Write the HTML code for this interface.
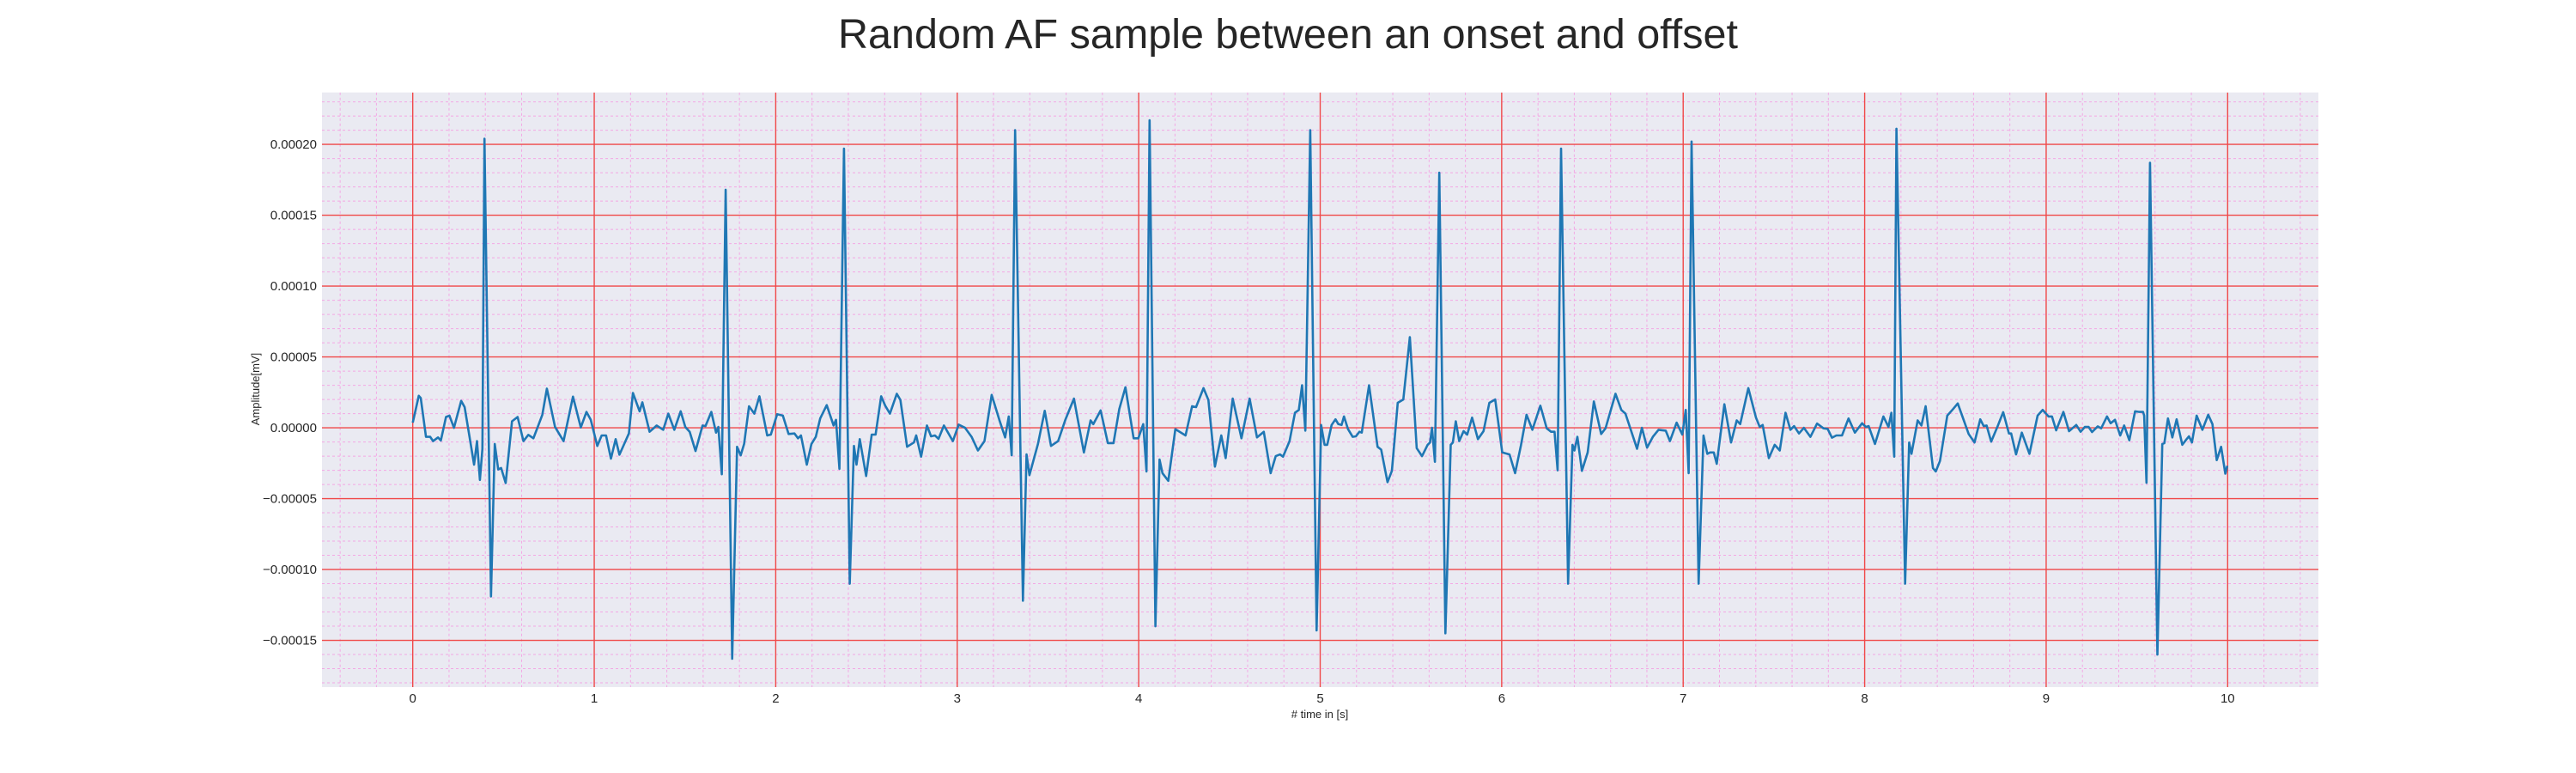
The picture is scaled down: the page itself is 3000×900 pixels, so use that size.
<!DOCTYPE html>
<html><head><meta charset="utf-8">
<style>
html,body{margin:0;padding:0;background:#fff;}
svg{display:block;font-family:"Liberation Sans",Arial,sans-serif;}
</style></head>
<body>
<svg id="chart" width="3000" height="900" viewBox="0 0 3000 900" xmlns="http://www.w3.org/2000/svg">
<text x="1500" y="56" text-anchor="middle" font-size="48.5" fill="#262626">Random AF sample between an onset and offset</text>
<rect x="375" y="107.7" width="2325" height="692.3" fill="#eaeaf2"/>
<g id="grid"></g>
<g id="ticks"></g>
<g id="series"></g>
<text x="1537" y="836" text-anchor="middle" font-size="13" fill="#262626"># time in [s]</text>
<text transform="translate(302,453) rotate(-90)" text-anchor="middle" font-size="13" fill="#262626">Amplitude[mV]</text>
</svg>
<script>
// ---- data ----
const xTicks = [0,1,2,3,4,5,6,7,8,9,10];
const yTicks = [-0.00015,-0.0001,-0.00005,0,0.00005,0.0001,0.00015,0.0002];
const yTickLabels = ["\u22120.00015","\u22120.00010","\u22120.00005","0.00000","0.00005","0.00010","0.00015","0.00020"];
// time in seconds
const timeS = [0,0.033,0.044,0.073,0.096,0.112,0.139,0.155,0.183,0.202,0.227,0.267,0.286,0.318,0.338,0.354,0.37,0.384,0.395,0.431,0.452,0.471,0.487,0.512,0.547,0.578,0.61,0.637,0.665,0.692,0.714,0.739,0.784,0.831,0.883,0.926,0.957,0.981,1.017,1.041,1.065,1.092,1.118,1.139,1.191,1.213,1.25,1.265,1.305,1.344,1.38,1.408,1.441,1.476,1.502,1.526,1.558,1.597,1.613,1.645,1.671,1.684,1.703,1.724,1.76,1.787,1.807,1.826,1.853,1.882,1.91,1.953,1.973,2.008,2.039,2.071,2.103,2.123,2.139,2.171,2.197,2.221,2.245,2.281,2.319,2.332,2.351,2.376,2.408,2.431,2.445,2.463,2.498,2.529,2.55,2.581,2.603,2.629,2.667,2.687,2.724,2.761,2.774,2.801,2.833,2.856,2.877,2.897,2.927,2.976,3.008,3.043,3.079,3.114,3.15,3.19,3.232,3.264,3.284,3.3,3.319,3.362,3.382,3.398,3.445,3.482,3.517,3.556,3.596,3.643,3.698,3.735,3.75,3.79,3.83,3.861,3.893,3.927,3.972,3.998,4.025,4.043,4.06,4.092,4.115,4.131,4.163,4.202,4.258,4.294,4.316,4.357,4.384,4.42,4.455,4.479,4.518,4.566,4.611,4.652,4.689,4.727,4.755,4.779,4.795,4.831,4.861,4.882,4.9,4.918,4.945,4.98,5.005,5.024,5.039,5.063,5.084,5.1,5.118,5.131,5.153,5.179,5.197,5.216,5.229,5.269,5.316,5.336,5.371,5.395,5.427,5.458,5.494,5.532,5.561,5.592,5.605,5.616,5.632,5.656,5.69,5.719,5.731,5.747,5.766,5.79,5.81,5.837,5.869,5.9,5.932,5.964,6.003,6.043,6.074,6.106,6.137,6.169,6.213,6.248,6.272,6.291,6.308,6.327,6.366,6.39,6.401,6.417,6.442,6.474,6.508,6.548,6.572,6.627,6.659,6.682,6.746,6.773,6.801,6.833,6.864,6.904,6.927,6.964,6.995,7.014,7.03,7.046,7.085,7.112,7.133,7.148,7.169,7.185,7.227,7.264,7.295,7.314,7.359,7.401,7.422,7.438,7.472,7.504,7.532,7.564,7.591,7.611,7.638,7.665,7.701,7.738,7.773,7.796,7.82,7.844,7.875,7.911,7.946,7.986,8.006,8.022,8.057,8.103,8.131,8.147,8.163,8.175,8.223,8.245,8.258,8.292,8.313,8.336,8.376,8.392,8.415,8.455,8.487,8.513,8.573,8.605,8.637,8.656,8.672,8.697,8.731,8.763,8.795,8.807,8.834,8.866,8.908,8.953,8.981,9.013,9.032,9.055,9.095,9.126,9.166,9.19,9.213,9.234,9.253,9.284,9.303,9.335,9.355,9.379,9.408,9.43,9.458,9.49,9.513,9.534,9.54,9.553,9.572,9.613,9.64,9.651,9.671,9.695,9.719,9.75,9.774,9.787,9.803,9.829,9.861,9.893,9.916,9.94,9.964,9.987,9.998];
// amplitude in units of 1e-5 mV
const ampE5 = [0.36,2.26,2.1,-0.64,-0.64,-0.94,-0.68,-0.9,0.76,0.86,0,1.9,1.46,-1.04,-2.6,-0.94,-3.68,-1.5,20.4,-11.9,-1.14,-2.94,-2.84,-3.9,0.46,0.76,-0.94,-0.5,-0.74,0.16,0.92,2.76,0.06,-0.94,2.2,0.02,1.12,0.56,-1.28,-0.54,-0.54,-2.18,-0.8,-1.9,-0.4,2.46,1.16,1.8,-0.28,0.16,-0.14,1.0,-0.14,1.16,0.06,-0.28,-1.64,0.16,0.12,1.12,-0.34,0.06,-3.28,16.8,-16.3,-1.34,-1.94,-1.14,1.52,1.0,2.22,-0.54,-0.48,0.96,0.86,-0.44,-0.4,-0.74,-0.54,-2.6,-1.14,-0.64,0.66,1.6,0.16,0.56,-2.9,19.7,-11.0,-1.28,-2.6,-0.8,-3.4,-0.48,-0.48,2.22,1.56,1.0,2.4,1.96,-1.34,-1.04,-0.54,-2.04,0.16,-0.6,-0.54,-0.78,0.16,-0.94,0.22,0,-0.64,-1.6,-0.94,2.32,0.56,-0.68,0.8,-1.94,21.0,-12.2,-1.88,-3.34,-1.14,1.2,-1.28,-0.94,0.56,2.06,-1.74,0.52,0.26,1.22,-1.08,-1.08,1.32,2.86,-0.74,-0.74,0.26,-3.08,21.7,-14.0,-2.24,-3.2,-3.74,-0.1,-0.54,1.52,1.46,2.8,1.96,-2.74,-0.54,-2.14,2.06,-0.74,2.06,-0.68,-0.28,-3.2,-2.0,-1.88,-2.04,-0.94,1.06,1.26,3.0,-0.2,21.0,-14.3,0.2,-1.2,-1.2,0.2,0.6,0.26,0.2,0.8,-0.08,-0.64,-0.6,-0.28,-0.34,3.0,-1.34,-1.54,-3.84,-3.04,1.76,2.0,6.4,-1.44,-2.0,-1.2,-1.04,0,-2.4,18.0,-14.5,-1.2,-1.04,0.46,-0.94,-0.24,-0.48,0.72,-0.8,-0.24,1.76,2.0,-1.74,-1.88,-3.2,-1.24,0.92,-0.14,1.56,-0.04,-0.28,-0.28,-3.0,19.7,-11.0,-1.2,-1.6,-0.64,-3.04,-1.74,1.86,-0.44,-0.04,2.4,1.26,1.0,-1.48,0,-1.4,-0.64,-0.14,-0.2,-0.94,0.36,-0.48,1.26,-3.2,20.2,-11.0,-0.54,-1.84,-1.74,-1.74,-2.54,1.66,-1.04,0.52,0.26,2.8,0.72,0.06,0.2,-2.14,-1.2,-1.6,1.06,-0.14,0.12,-0.4,0,-0.64,0.3,-0.04,-0.08,-0.7,-0.54,-0.54,0.66,-0.34,0.32,0.06,0.12,-1.14,0.8,0.06,1.06,-2.04,21.1,-11.0,-1.04,-1.84,0.52,0.16,1.52,-2.84,-3.08,-2.34,0.86,1.32,1.72,-0.44,-1.04,0.6,0.12,0.16,-0.98,0.06,1.1,-0.4,-0.4,-1.88,-0.34,-1.84,0.86,1.26,0.8,0.8,-0.18,1.12,-0.24,0.2,-0.28,0.06,0.06,-0.3,0.1,-0.04,0.8,0.32,0.56,-0.54,0.16,-0.88,1.16,1.12,1.12,0.86,-3.88,18.7,-16.0,-1.14,-1.08,0.66,-0.68,0.6,-1.2,-0.8,-0.6,-1.04,0.86,-0.14,0.92,0.26,-2.28,-1.34,-3.24,-2.68];
const AMP_UNIT = 1e-5;

// ---- axes ----
const PL=375, PR=2700, PT=107.7, PB=800;
const XMIN=-0.5, XMAX=10.5, YMIN=-0.000183, YMAX=0.0002366;
function sx(t){return PL+(t-XMIN)/(XMAX-XMIN)*(PR-PL);}
function sy(v){return PB-(v-YMIN)/(YMAX-YMIN)*(PB-PT);}
const NS="http://www.w3.org/2000/svg";
function mk(tag,attrs,parent){const e=document.createElementNS(NS,tag);for(const k in attrs)e.setAttribute(k,attrs[k]);parent.appendChild(e);return e;}

const grid=document.getElementById('grid');
for(let i=-25;i<=52;i++){const t=i*0.2; if(t<XMIN||t>XMAX)continue; if(Math.abs(t-Math.round(t))<1e-9)continue;
  const l=mk('line',{x1:sx(t),x2:sx(t),y1:PT,y2:PB,stroke:'#f3a8e4','stroke-width':1,'stroke-dasharray':'3,3'},grid);
  
  }
for(let i=-20;i<=25;i++){const v=i*0.00001; if(v<YMIN||v>YMAX)continue; if(i%5===0)continue;
  const l=mk('line',{x1:PL,x2:PR,y1:sy(v),y2:sy(v),stroke:'#f3a8e4','stroke-width':1,'stroke-dasharray':'3,3'},grid);
  
  }
xTicks.forEach(t=>{const l=mk('line',{x1:sx(t),x2:sx(t),y1:PT,y2:PB,stroke:'#f04848','stroke-width':1.4},grid);
  
  });
yTicks.forEach(v=>{const l=mk('line',{x1:PL,x2:PR,y1:sy(v),y2:sy(v),stroke:'#f04848','stroke-width':1.4},grid);
  
  });

const ticks=document.getElementById('ticks');
xTicks.forEach(t=>{const e=mk('text',{x:sx(t),y:818,'text-anchor':'middle','font-size':15,fill:'#262626'},ticks);e.textContent=String(t);
  
  });
yTicks.forEach((v,i)=>{const e=mk('text',{x:369,y:sy(v)+5,'text-anchor':'end','font-size':15,fill:'#262626'},ticks);e.textContent=yTickLabels[i];
  
  });

const series=document.getElementById('series');
let d='';
for(let i=0;i<timeS.length;i++){d+=(i?'L':'M')+sx(timeS[i]).toFixed(1)+','+sy(ampE5[i]*AMP_UNIT).toFixed(1);}
const path=mk('path',{d:d,fill:'none',stroke:'#1f77b4','stroke-width':2.6,'stroke-linejoin':'round'},series);


</script>
</body></html>
